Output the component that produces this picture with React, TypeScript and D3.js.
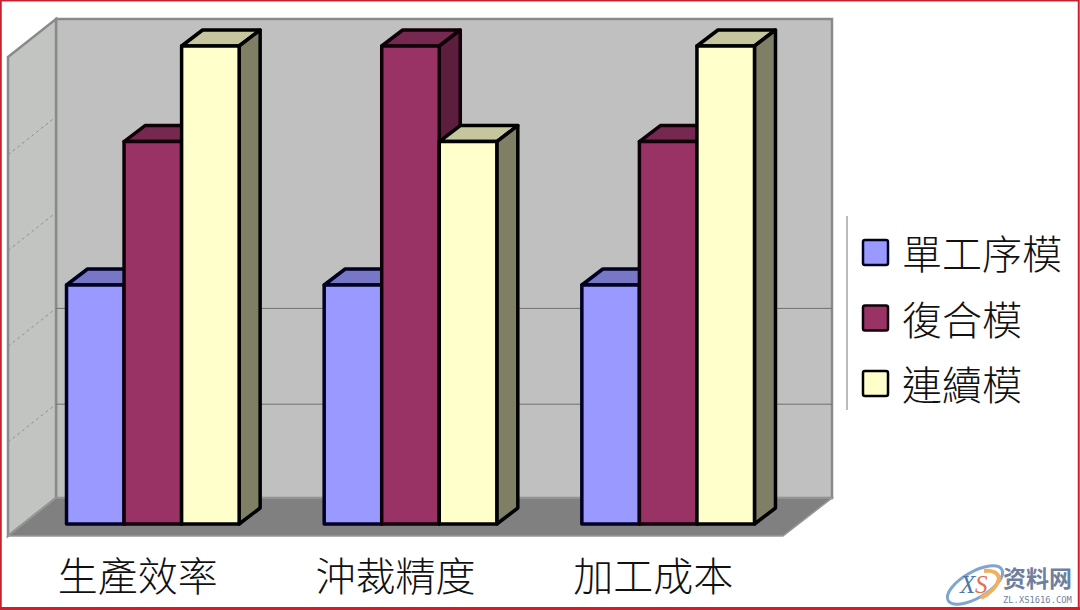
import React from "react";
import * as d3 from "d3";

const categories = ["生產效率", "沖裁精度", "加工成本"];
const seriesNames = ["單工序模", "復合模", "連續模"];
const seriesA = [2.5, 2.5, 2.5];
const seriesB = [4, 5, 4];
const seriesC = [5, 4, 5];
const seriesValues = [seriesA, seriesB, seriesC];
const yTicks = [1, 2, 3, 4, 5];
const visibleBackGrid = [1, 2];

const front = ["#9999ff", "#993366", "#ffffcc"];
const top = ["#7777c6", "#772850", "#c6c69e"];
const side = ["#5b5b99", "#5b1e3d", "#7f7f66"];
const edge = ["#000022", "#100008", "#000000"];

const W = 1080, H = 610;
const DX = 21, DY = -16;

export default function App() {
  const y = d3.scaleLinear().domain([0, 5]).range([524, 46]);
  const x0 = d3.scaleBand<string>().domain(categories).range([24, 797]).paddingInner(0.33).paddingOuter(0.165);
  const x1 = d3.scaleBand<string>().domain(seriesNames).range([0, x0.bandwidth()]);
  const line = d3.line();
  const poly = (p: [number, number][]) => line(p)! + "Z";

  const backX0 = 56, backX1 = 832, backY0 = 498, backY1 = 19;
  const sideX = 8, sideY0 = 536, sideY1 = 57;
  const floorRight = 783;
  const yBack = d3.scaleLinear().domain([0, 5]).range([backY0, backY1]);
  const ySide = d3.scaleLinear().domain([0, 5]).range([sideY0, sideY1]);

  const legendY = d3.scalePoint<string>().domain(seriesNames).range([252, 383]);

  return (
    <svg
      width={W}
      height={H}
      viewBox={`0 0 ${W} ${H}`}
      style={{ position: "absolute", left: 0, top: 0, background: "#fff" }}
    >
      {/* walls */}
      <path d={poly([[backX0, backY1], [backX1, backY1], [backX1, backY0], [backX0, backY0]])} fill="#c0c0c0" stroke="#8a8a8a" strokeWidth={2.5} />
      <path d={poly([[sideX, sideY1], [backX0, backY1], [backX0, backY0], [sideX, sideY0]])} fill="#c2c4c2" stroke="#8a8a8a" strokeWidth={2.5} />
      <path d={poly([[sideX, sideY0], [backX0, backY0], [backX1, backY0], [floorRight, sideY0]])} fill="#808080" stroke="#989898" strokeWidth={1.5} />

      {/* gridlines */}
      {yTicks.slice(0, 4).map((t) => (
        <line key={t} x1={sideX} x2={backX0} y1={ySide(t) + 2} y2={yBack(t) + 2} stroke="#8e8e8e" strokeWidth={1} strokeDasharray="3 3" />
      ))}
      {visibleBackGrid.map((t) => (
        <line key={t} x1={backX0} x2={backX1} y1={yBack(t) + 2} y2={yBack(t) + 2} stroke="#6f7070" strokeWidth={1} />
      ))}

      {/* bars */}
      {categories.map((c, ci) => (
        <g key={c}>
          {seriesNames.map((s, si) => {
            const v = seriesValues[si][ci];
            const xa = x0(c)! + x1(s)!;
            const xb = xa + x1.bandwidth();
            const yt = y(v), yb = y(0);
            return (
              <g key={s} stroke={edge[si]} strokeWidth={3.5} strokeLinejoin="round">
                <path d={poly([[xa, yt], [xa + DX, yt + DY], [xb + DX, yt + DY], [xb, yt]])} fill={top[si]} />
                <path d={poly([[xb, yt], [xb + DX, yt + DY], [xb + DX, yb + DY], [xb, yb]])} fill={side[si]} />
                <rect x={xa} y={yt} width={xb - xa} height={yb - yt} fill={front[si]} />
              </g>
            );
          })}
        </g>
      ))}

      {/* category labels */}
      {categories.map((c) => (
        <text
          key={c}
          x={x0(c)! + x0.bandwidth() / 2 - 15}
          y={591}
          textAnchor="middle"
          fontFamily="'Noto Sans CJK TC'"
          fontWeight={300}
          fontSize={40}
          fill="#111"
        >
          {c}
        </text>
      ))}

      {/* legend */}
      <line x1={847} x2={847} y1={216} y2={410} stroke="#777" strokeWidth={1} />
      {seriesNames.map((s, si) => (
        <g key={s}>
          <rect x={863} y={legendY(s)! - 12} width={25} height={25} rx={2} fill={front[si]} stroke={edge[si]} strokeWidth={2.5} />
          <text x={902} y={legendY(s)! + 17} fontFamily="'Noto Sans CJK TC'" fontWeight={300} fontSize={40} fill="#111">
            {s}
          </text>
        </g>
      ))}

      {/* watermark */}
      <g fill="none">
        <ellipse cx={975} cy={585} rx={31} ry={13} transform="rotate(-30 975 585)" stroke="#7fa6d0" strokeWidth={3} />
        <path d="M 984 571 A 25 14 -30 0 1 999 578 A 25 14 -30 0 1 981 598" stroke="#f0b060" strokeWidth={4} />
      </g>
      <text x={960} y={593} fontFamily="'Liberation Serif'" fontStyle="italic" fontSize={25} fill="#4a78a8">X</text>
      <text x={975} y={593} fontFamily="'Liberation Serif'" fontStyle="italic" fontSize={25} fill="#e07050">S</text>
      <text x={1003} y={587} fontFamily="'Noto Sans CJK SC'" fontWeight={700} fontSize={23} fill="#6f7f9f">资料网</text>
      <text x={1003} y={603} fontFamily="'DejaVu Sans Mono'" fontSize={8.8} fill="#6f7f9f">ZL.XS1616.COM</text>

      {/* frame */}
      <rect x={0.75} y={0.5} width={W - 2} height={H - 2} fill="none" stroke="#c8202c" strokeWidth={2} />
      <line x1={0} x2={W} y1={608.5} y2={608.5} stroke="#c8202c" strokeWidth={3} />
    </svg>
  );
}
